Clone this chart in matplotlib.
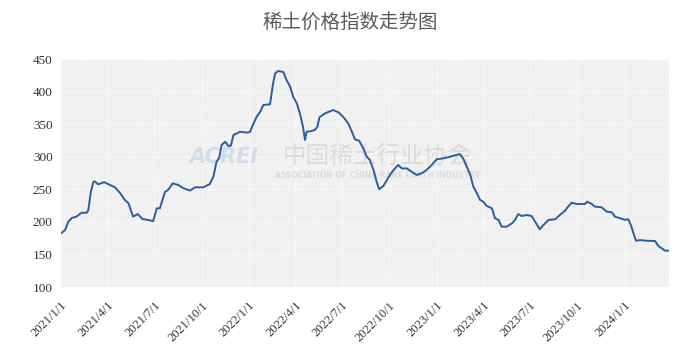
import matplotlib
matplotlib.use("Agg")
import matplotlib.pyplot as plt
from matplotlib.patches import Rectangle
import pandas as pd

title = "稀土价格指数走势图"

dates = [
    "2021-01-02", "2021-01-09", "2021-01-15", "2021-01-22", "2021-01-31", "2021-02-10",
    "2021-02-20", "2021-02-23", "2021-02-28", "2021-03-05", "2021-03-08", "2021-03-14",
    "2021-03-26", "2021-04-06", "2021-04-16", "2021-04-26", "2021-05-05", "2021-05-12",
    "2021-05-21", "2021-05-30", "2021-06-08", "2021-06-20", "2021-06-29", "2021-07-06",
    "2021-07-12", "2021-07-22", "2021-07-28", "2021-08-06", "2021-08-17", "2021-08-27",
    "2021-09-09", "2021-09-18", "2021-10-04", "2021-10-17", "2021-10-24", "2021-10-30",
    "2021-11-04", "2021-11-09", "2021-11-16", "2021-11-22", "2021-11-27", "2021-12-02",
    "2021-12-15", "2021-12-28", "2022-01-03", "2022-01-10", "2022-01-16", "2022-01-23",
    "2022-01-29", "2022-02-11", "2022-02-17", "2022-02-21", "2022-02-27", "2022-03-09",
    "2022-03-15", "2022-03-22", "2022-03-28", "2022-04-04", "2022-04-10", "2022-04-16",
    "2022-04-20", "2022-04-23", "2022-04-30", "2022-05-09", "2022-05-14", "2022-05-18",
    "2022-05-29", "2022-06-14", "2022-06-24", "2022-07-03", "2022-07-13", "2022-07-20",
    "2022-07-26", "2022-08-03", "2022-08-11", "2022-08-18", "2022-08-24", "2022-08-31",
    "2022-09-06", "2022-09-11", "2022-09-19", "2022-09-26", "2022-10-02", "2022-10-09",
    "2022-10-18", "2022-10-25", "2022-11-04", "2022-11-13", "2022-11-23", "2022-12-03",
    "2022-12-12", "2022-12-22", "2023-01-01", "2023-01-14", "2023-01-27", "2023-02-09",
    "2023-02-15", "2023-02-22", "2023-02-28", "2023-03-07", "2023-03-13", "2023-03-20",
    "2023-03-26", "2023-04-01", "2023-04-08", "2023-04-18", "2023-04-24", "2023-05-01",
    "2023-05-07", "2023-05-17", "2023-05-27", "2023-06-02", "2023-06-08", "2023-06-15",
    "2023-06-25", "2023-07-04", "2023-07-11", "2023-07-20", "2023-07-27", "2023-08-06",
    "2023-08-19", "2023-08-28", "2023-09-07", "2023-09-13", "2023-09-20", "2023-09-30",
    "2023-10-16", "2023-10-20", "2023-10-29", "2023-11-04", "2023-11-17", "2023-11-27",
    "2023-12-07", "2023-12-13", "2023-12-23", "2024-01-02", "2024-01-08", "2024-01-13",
    "2024-01-18", "2024-01-23", "2024-01-31", "2024-02-13", "2024-02-29", "2024-03-06",
    "2024-03-13", "2024-03-19", "2024-03-26",
]
index_values = [
    183, 187.5, 200, 206, 208, 214,
    214, 218, 246, 261.7, 262, 257.6,
    261, 256.6, 253, 244, 233.6, 228.5,
    208, 212, 204.4, 202.8, 201, 220.8,
    220.8, 246, 249, 259, 256.6, 251.5,
    248, 253, 253, 258, 269.4, 292,
    297.6, 318, 323, 316.5, 317, 333.3,
    338.4, 337, 338, 351, 361.4, 369,
    379.4, 380.5, 412.7, 428, 431.6, 430,
    417.8, 407.5, 392, 382, 366.6, 346,
    325.7, 338.4, 339, 341, 346, 360.5,
    366.6, 371.7, 368, 361.4, 351, 338.4,
    326.7, 324.6, 313, 300, 295, 279.6,
    261.7, 250, 255, 264, 272, 279.6,
    287.3, 282, 282, 277, 272, 274.6,
    279.6, 287.3, 296, 297.6, 300, 303,
    304, 296, 285, 272, 254, 243.8,
    233.6, 231, 224.4, 220.8, 205.5, 203,
    192.6, 192.6, 197.8, 203, 212, 209,
    210.5, 209, 200, 188.6, 195, 203,
    204, 210.5, 217, 223.4, 229.4, 227.4,
    227.4, 231, 227.4, 223.4, 222.4, 215.6,
    214.7, 208, 205.5, 203, 204, 195,
    182.4, 171, 172, 171, 170.6, 163,
    159.4, 155.8, 155.8,
]
tick_labels = ["2021/1/1", "2021/4/1", "2021/7/1", "2021/10/1", "2022/1/1", "2022/4/1",
               "2022/7/1", "2022/10/1", "2023/1/1", "2023/4/1", "2023/7/1", "2023/10/1",
               "2024/1/1"]
tick_dates = ["2021-01-01", "2021-04-01", "2021-07-01", "2021-10-01", "2022-01-01",
              "2022-04-01", "2022-07-01", "2022-10-01", "2023-01-01", "2023-04-01",
              "2023-07-01", "2023-10-01", "2024-01-01"]
y_ticks = [100, 150, 200, 250, 300, 350, 400, 450]

plt.rcParams['hatch.linewidth'] = 0.3

fig = plt.figure(figsize=(7.0, 3.53), dpi=100)
ax = fig.add_axes([61/700, 1-287/353, (669-61)/700, (287-59)/353])

x = pd.to_datetime(dates)
xt = pd.to_datetime(tick_dates)

ax.set_facecolor('#f3f3f3')
ax.add_patch(Rectangle((0, 0), 1, 1, transform=ax.transAxes, facecolor='none',
                       edgecolor='#e4e4e4', hatch='////////', linewidth=0, zorder=0))
ax.set_axisbelow(True)
ax.grid(True, color='#f8f8f8', linewidth=0.8)

ax.plot(x, index_values, color='#2c5d9c', linewidth=1.4, zorder=3)

ax.set_xlim(pd.Timestamp("2021-01-01"), pd.Timestamp("2024-03-27"))
ax.set_ylim(100, 450)
ax.set_yticks(y_ticks)
ax.set_xticks(xt)
ax.set_xticklabels(tick_labels)
for lab in ax.get_xticklabels():
    lab.set_fontfamily('Liberation Serif')
    lab.set_fontsize(9)
    lab.set_color('#333333')
    lab.set_rotation(45)
    lab.set_ha('right')
    lab.set_va('top')
    lab.set_rotation_mode('anchor')
for lab in ax.get_yticklabels():
    lab.set_fontfamily('Liberation Serif')
    lab.set_fontsize(9.5)
    lab.set_color('#333333')
ax.tick_params(axis='both', length=0)
ax.tick_params(axis='y', pad=6)
ax.tick_params(axis='x', pad=9)
for s in ax.spines.values():
    s.set_visible(False)

# watermark
ax.text(0.268, 0.57, "ACREI", transform=ax.transAxes, fontsize=15, fontweight='bold',
        style='italic', color='#d3dde9', ha='center', va='center', zorder=2,
        family='DejaVu Sans')
ax.text(0.52, 0.575, "中国稀土行业协会", transform=ax.transAxes, fontsize=17,
        color='#dadada', ha='center', va='center', zorder=2, family='Noto Sans CJK SC')
ax.text(0.52, 0.49, "ASSOCIATION OF CHINA RARE EARTH INDUSTRY", transform=ax.transAxes,
        fontsize=5.5, fontweight='bold', color='#dcdcdc', ha='center', va='center', zorder=2,
        family='DejaVu Sans')

fig.text(0.5, 1-22/353, title, ha='center', va='center', fontsize=14, color='#5a5a5a',
         family=['Noto Sans CJK SC', 'DejaVu Sans'], fontweight='light')

fig.savefig("out.png", dpi=100, facecolor='white')
